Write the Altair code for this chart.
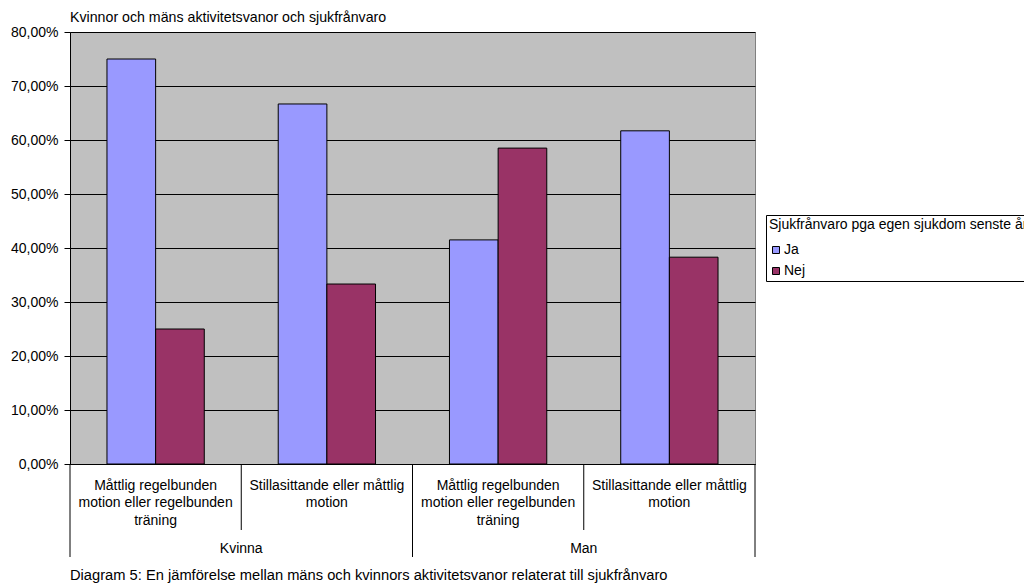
import altair as alt
import pandas as pd

# ---- data ----
groups = ["Kvinna", "Kvinna", "Man", "Man"]
categories = [
    "Måttlig regelbunden motion eller regelbunden träning",
    "Stillasittande eller måttlig motion",
    "Måttlig regelbunden motion eller regelbunden träning",
    "Stillasittande eller måttlig motion",
]
category_lines = [
    "Måttlig regelbunden\nmotion eller regelbunden\nträning",
    "Stillasittande eller måttlig\nmotion",
    "Måttlig regelbunden\nmotion eller regelbunden\nträning",
    "Stillasittande eller måttlig\nmotion",
]
series = ["Ja", "Nej"]
ja_values = [75.0, 66.67, 41.5, 61.7]
nej_values = [25.0, 33.33, 58.5, 38.3]
colors = ["#9999FF", "#993366"]

title_text = "Kvinnor och mäns aktivitetsvanor och sjukfrånvaro"
legend_title = "Sjukfrånvaro pga egen sjukdom senste år"
caption = "Diagram 5: En jämförelse mellan mäns och kvinnors aktivitetsvanor relaterat till sjukfrånvaro"
y_ticks = [0, 10, 20, 30, 40, 50, 60, 70, 80]

keys = [f"{g}|{i}" for i, g in enumerate(groups)]

rows = []
for k, g, c, j, n in zip(keys, groups, categories, ja_values, nej_values):
    rows.append({"key": k, "group": g, "category": c, "series": "Ja", "value": j})
    rows.append({"key": k, "group": g, "category": c, "series": "Nej", "value": n})
bars_df = pd.DataFrame(rows)
cat_df = pd.DataFrame({"key": keys, "label": category_lines})
grp_df = pd.DataFrame({"key": [keys[1], keys[3]], "label": ["Kvinna", "Man"]})

W, H = 685, 432
FONT = "Liberation Sans"
FS = 14

xscale = alt.Scale(domain=keys, paddingInner=0, paddingOuter=0)

bars = alt.Chart(bars_df).mark_bar(stroke="black", strokeWidth=1).encode(
    x=alt.X("key:N", scale=xscale, sort=keys,
            axis=alt.Axis(labels=False, ticks=False, title=None, domain=True,
                          domainColor="black", grid=False)),
    xOffset=alt.XOffset("series:N", scale=alt.Scale(paddingOuter=0.76, paddingInner=0)),
    y=alt.Y("value:Q", scale=alt.Scale(domain=[0, 80], nice=False),
            axis=alt.Axis(values=y_ticks, title=None, grid=True, gridColor="black",
                          gridOpacity=1, gridWidth=1, tickColor="black", tickSize=6,
                          domainColor="black", labelFont=FONT, labelFontSize=FS,
                          labelColor="black", labelPadding=6,
                          labelExpr="replace(format(datum.value/100, '.2%'), '.', ',')")),
    color=alt.Color("series:N", scale=alt.Scale(domain=series, range=colors),
                    legend=alt.Legend(title=legend_title, orient="none",
                                      legendX=696, legendY=183)),
)

cat_text = alt.Chart(cat_df).mark_text(
    font=FONT, fontSize=FS, lineBreak="\n", baseline="top", align="center",
    lineHeight=17.5, color="black"
).encode(
    x=alt.X("key:N", scale=xscale, sort=keys),
    y=alt.value(H + 14.5),
    text="label:N",
)

grp_text = alt.Chart(grp_df).mark_text(
    font=FONT, fontSize=FS, baseline="middle", align="center", color="black"
).encode(
    x=alt.X("key:N", scale=xscale, sort=keys, bandPosition=0),
    y=alt.value(H + 85),
    text="label:N",
)

inner_sep = alt.Chart(pd.DataFrame({"key": [keys[1], keys[3]]})).mark_rule(
    color="black", strokeWidth=1
).encode(
    x=alt.X("key:N", scale=xscale, sort=keys, bandPosition=0),
    y=alt.value(H), y2=alt.value(H + 66),
)
outer_sep = alt.Chart(pd.DataFrame({"key": [keys[0], keys[2]]})).mark_rule(
    color="black", strokeWidth=1
).encode(
    x=alt.X("key:N", scale=xscale, sort=keys, bandPosition=0),
    y=alt.value(H), y2=alt.value(H + 93),
)
end_sep = alt.Chart(pd.DataFrame({"key": [keys[3]]})).mark_rule(
    color="black", strokeWidth=1
).encode(
    x=alt.X("key:N", scale=xscale, sort=keys, bandPosition=1),
    y=alt.value(H), y2=alt.value(H + 93),
)

cap = alt.Chart(pd.DataFrame({"t": [caption]})).mark_text(
    font=FONT, fontSize=14.7, align="left", baseline="middle", color="black"
).encode(x=alt.value(0), y=alt.value(H + 112), text="t:N")

legend_line = alt.Chart(pd.DataFrame({"t": [0]})).mark_rule(color="black", strokeWidth=1).encode(
    x=alt.value(696), x2=alt.value(970), y=alt.value(203)
)

chart = alt.layer(bars, inner_sep, outer_sep, end_sep, cat_text, grp_text, cap, legend_line).properties(
    width=W, height=H,
    title=alt.TitleParams(title_text, anchor="start", frame="group", font=FONT, fontSize=14.2,
                          fontWeight="normal", color="black", offset=0),
    autosize=alt.AutoSizeParams(type="none"),
    padding={"left": 70, "top": 32, "right": 269, "bottom": 122},
    background="white",
).configure_view(
    fill="#C0C0C0", stroke="#808080", strokeWidth=1
).configure_legend(
    strokeColor="black", fillColor="white", padding=3, cornerRadius=0,
    titleFont=FONT, titleFontSize=FS, titleFontWeight="normal", titleColor="black",
    titleLimit=800, titlePadding=11, labelFont=FONT, labelFontSize=FS, labelColor="black",
    symbolType="square", symbolSize=49, symbolStrokeColor="black", symbolStrokeWidth=1,
    symbolOpacity=1, rowPadding=7, labelOffset=1, symbolOffset=0
)

chart.save("out.html", embed_options={"renderer": "svg", "actions": False})
